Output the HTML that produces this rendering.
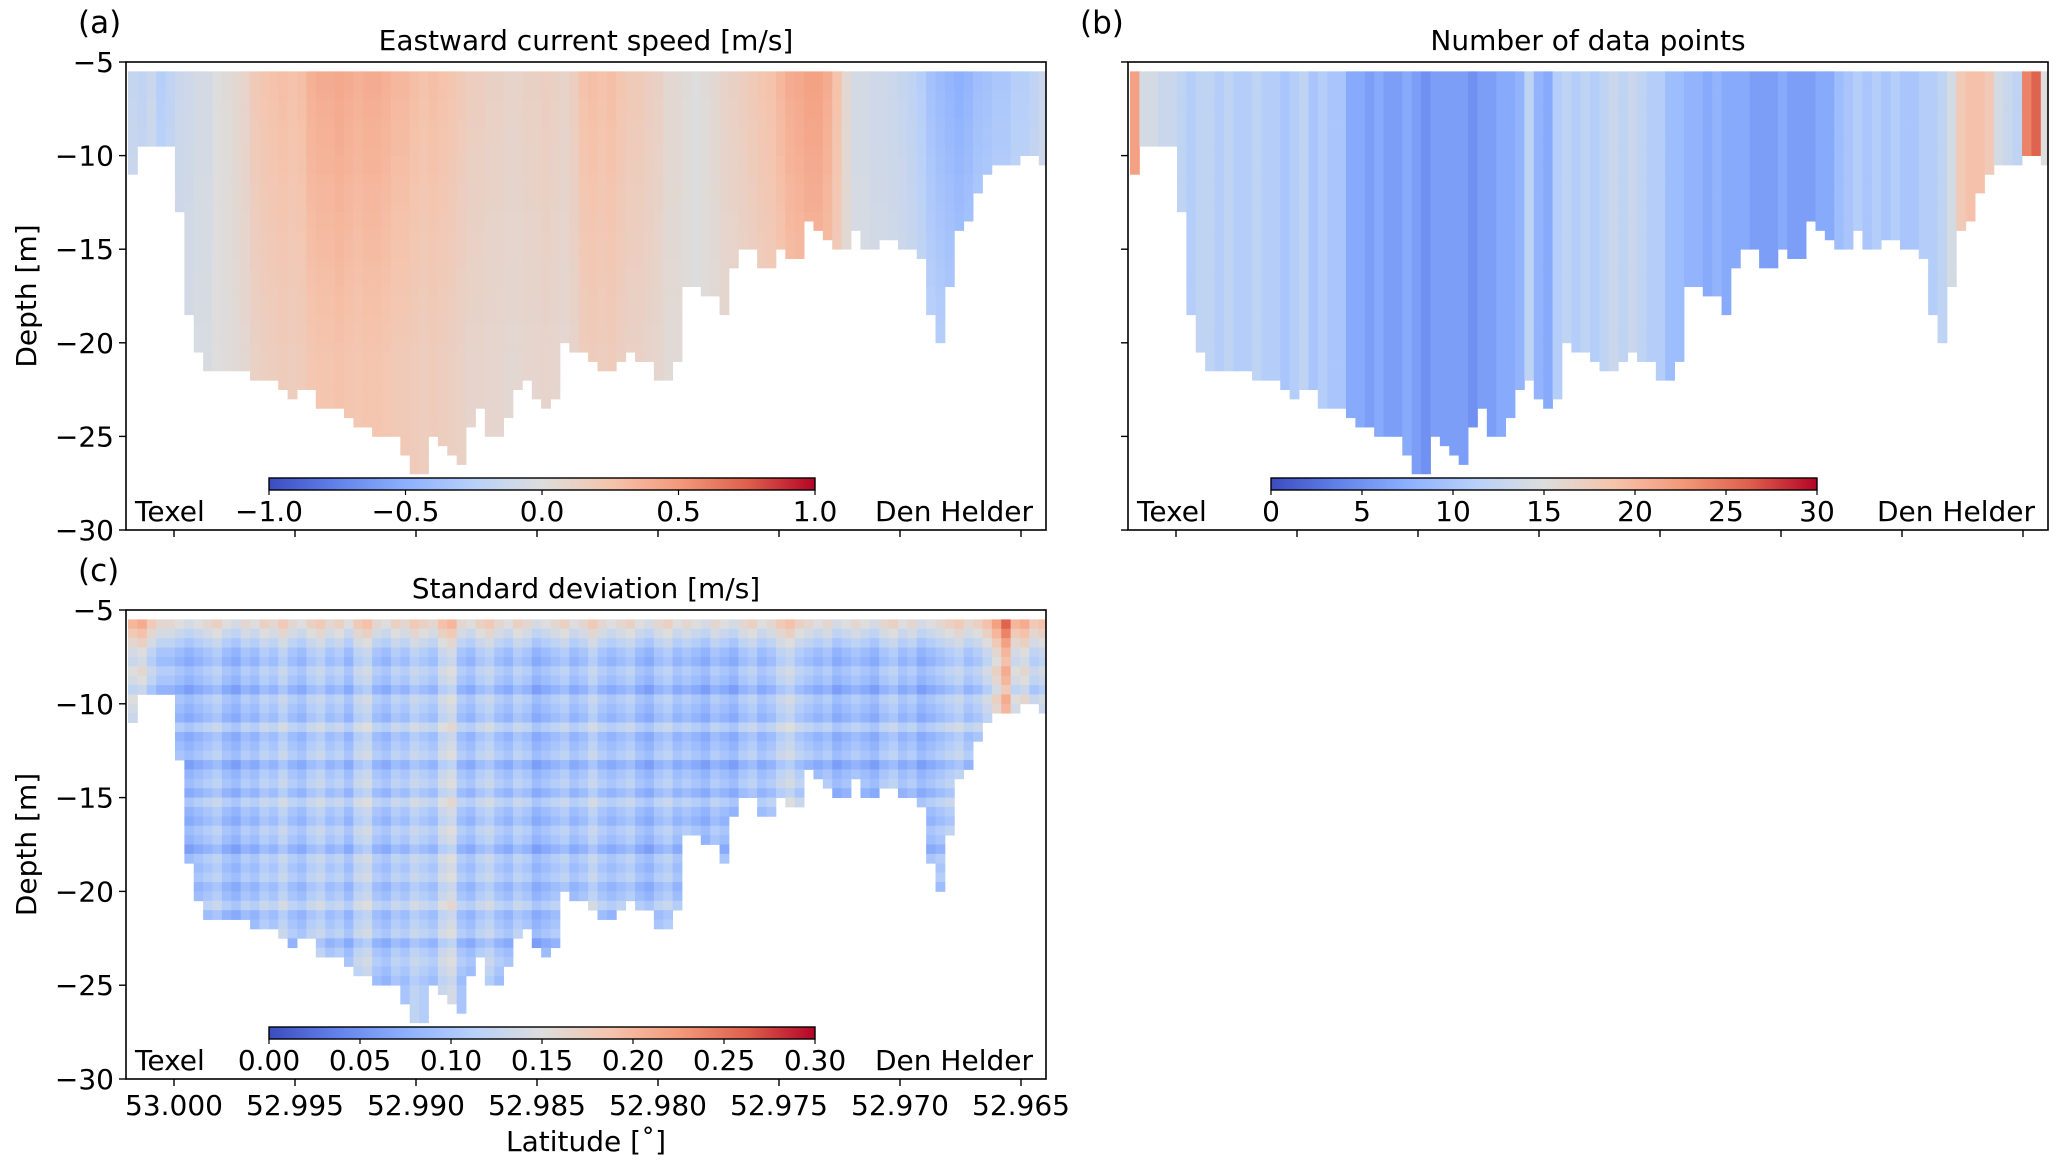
<!DOCTYPE html>
<html><head><meta charset="utf-8">
<style>
html,body{margin:0;padding:0;background:#fff;}
svg{display:block;font-family:"DejaVu Sans","Liberation Sans",sans-serif;}
</style></head>
<body>
<svg id="fig" width="2067" height="1171" viewBox="0 0 2067 1171" xmlns="http://www.w3.org/2000/svg"></svg>
<script>
// ---- data ----
const bottomDepth = [-11,-9.5,-9.5,-9.5,-9.5,-13,-18.5,-20.5,-21.5,-21.5,-21.5,-21.5,-21.5,-22,-22,-22,-22.5,-23,-22.5,-22.5,
-23.5,-23.5,-23.5,-24,-24.5,-24.5,-25,-25,-25,-26,-27,-27,-25,-25.5,-26,-26.5,-24.5,-23.5,-25,-25,
-24,-22.5,-22,-23,-23.5,-23,-20,-20.5,-20.5,-21,-21.5,-21.5,-21,-20.5,-21,-21,-22,-22,-21,-17,
-17,-17.5,-17.5,-18.5,-16,-15,-15,-16,-16,-15,-15.5,-15.5,-13.5,-14,-14.5,-15,-15,-14,-15,-15,
-14.5,-14.5,-15,-15,-15.5,-18.5,-20,-17,-14,-13.5,-12,-11,-10.5,-10.5,-10.5,-10,-10,-10.5];
const topDepth = -5.5;
const rowStep = 0.5;
const latStart = 53.0019;
const latStep = 0.000388;
const speedCols = [-0.12,-0.15,-0.1,-0.2,-0.15,-0.1,-0.08,-0.05,-0.05,
0.0,0.02,0.05,0.08,
0.15,0.18,0.2,0.22,0.2,0.22,
0.28,0.3,0.3,0.32,0.3,0.28,0.3,0.3,0.28,0.25,0.25,0.22,0.2,0.22,0.2,
0.18,0.15,0.12,0.12,0.1,0.1,0.08,0.08,0.1,0.1,0.12,0.1,0.08,0.12,
0.2,0.22,0.2,0.22,0.18,0.15,0.15,0.12,0.1,0.05,0.05,0.02,
0.0,0.02,0.05,0.08,0.1,0.12,0.15,0.18,0.2,0.25,
0.3,0.32,0.35,0.35,0.3,0.2,0.05,
-0.05,-0.05,-0.08,-0.08,-0.1,-0.12,-0.15,-0.2,
-0.28,-0.32,-0.35,-0.38,-0.35,-0.3,-0.28,-0.25,-0.25,-0.2,-0.2,-0.15,-0.1];
const speedRowFactor = [1.3,1.3,1.28,1.25,1.25,1.22,1.2,1.2,1.18,1.15,1.15,1.12,1.1,1.1,1.08,1.05,1.05,1.02,1,1,0.98,0.95,0.95,0.92,0.9,0.9,0.88,0.85,0.85,0.82,0.8,0.8,0.8,0.8,0.8,0.8,0.8,0.8,0.8,0.8,0.8,0.8,0.8];
const countCols = [22,14,14,13,13,12,
11,12,12,11,12,11,11,12,11,11,10,11,12,10,11,10,10,
7,7,6,7,6,6,7,6,5,6,6,6,6,5,6,6,7,7,8,
12,8,7,11,12,11,12,11,12,13,12,13,12,11,11,9,9,
8,8,7,8,7,7,7,6,6,6,7,6,6,6,7,7,9,
10,11,10,11,10,11,10,10,11,11,12,
14,18,19,19,18,
14,13,12,
24,26,15];
const stdCols = [0.14,0.15,0.12,0.1,0.1,0.09,0.08,0.09,0.1,0.11,
0.09,0.08,0.1,0.09,0.11,0.1,0.12,0.1,0.09,0.11,
0.12,0.1,0.11,0.09,0.12,0.13,0.1,0.09,0.11,0.1,
0.12,0.11,0.1,0.13,0.14,0.1,0.09,0.11,0.12,0.1,
0.09,0.11,0.1,0.08,0.09,0.1,0.11,0.09,0.1,0.12,
0.1,0.09,0.1,0.11,0.09,0.08,0.1,0.11,0.09,0.1,
0.09,0.08,0.1,0.09,0.08,0.1,0.11,0.09,0.1,0.12,
0.13,0.11,0.1,0.09,0.1,0.08,0.09,0.1,0.09,0.08,
0.1,0.11,0.09,0.1,0.08,0.09,0.1,0.11,0.12,0.1,
0.11,0.13,0.16,0.2,0.14,0.15,0.12,0.13];
const stdRowOffset = [0.06,0.04,0.02,0,-0.01,0.01,0,-0.02,0.01,0,-0.01,0.02,-0.01,0,0.01,-0.02,0,0.01,-0.01,0.02,0,-0.01,0.01,0,-0.02,0.01,0,0.01,-0.01,0,0.02,-0.01,0,0.01,-0.02,0,0.01,0,-0.01,0,0,0,0];
const yTicks = [-5,-10,-15,-20,-25,-30];
const yTickLabels = ["\u22125","\u221210","\u221215","\u221220","\u221225","\u221230"];
const xTicks = [53.000,52.995,52.990,52.985,52.980,52.975,52.970,52.965];
const xTickLabels = ["53.000","52.995","52.990","52.985","52.980","52.975","52.970","52.965"];
const cbA = [-1.0,-0.5,0.0,0.5,1.0];
const cbALabels = ["\u22121.0","\u22120.5","0.0","0.5","1.0"];
const cbB = [0,5,10,15,20,25,30];
const cbBLabels = ["0","5","10","15","20","25","30"];
const cbC = [0,0.05,0.10,0.15,0.20,0.25,0.30];
const cbCLabels = ["0.00","0.05","0.10","0.15","0.20","0.25","0.30"];

// ---- helpers ----
const NS = "http://www.w3.org/2000/svg";
const fig = document.getElementById('fig');
function mk(tag, attrs, parent){const e=document.createElementNS(NS,tag);for(const k in attrs)e.setAttribute(k,attrs[k]);(parent||fig).appendChild(e);return e;}
const cmapStops=[[59,76,192],[98,130,234],[141,176,254],[184,208,249],[221,221,221],[245,196,173],[244,154,123],[222,96,77],[180,4,38]];
function cmap(t){t=Math.max(0,Math.min(1,t));const p=t*8;const i=Math.min(7,Math.floor(p));const f=p-i;const a=cmapStops[i],b=cmapStops[i+1];
return `rgb(${Math.round(a[0]+(b[0]-a[0])*f)},${Math.round(a[1]+(b[1]-a[1])*f)},${Math.round(a[2]+(b[2]-a[2])*f)})`;}
const FS = 28;

function makePanel(P){
  const xs = lat => P.x0 + 48 + (53.000-lat)/0.005*121;
  const ys = d => P.y0 + (-5-d)/25*(P.y1-P.y0);
  const g = mk('g',{});
  
  
  for(let c=0;c<bottomDepth.length;c++){
    const la0=latStart-c*latStep, la1=latStart-(c+1)*latStep;
    const xa=xs(la0), xb=Math.min(xs(la1),P.x1);
    const nRows=Math.round((topDepth-bottomDepth[c])/rowStep);
    for(let r=0;r<nRows;r++){
      const d0=topDepth-r*rowStep, d1=d0-rowStep;
      const v=P.val(c,r);
      const rc=mk('rect',{x:xa.toFixed(2),y:ys(d0).toFixed(2),width:(xb-xa+0.4).toFixed(2),height:(ys(d1)-ys(d0)+0.4).toFixed(2),fill:cmap((v-P.vmin)/(P.vmax-P.vmin))},g);
      
      
    }
  }
  const fr=mk('rect',{x:P.x0,y:P.y0,width:P.x1-P.x0,height:P.y1-P.y0,fill:'none',stroke:'#000','stroke-width':1.6},g);
  
  
  yTicks.forEach((t,i)=>{
    const y=ys(t);
    const tk=mk('line',{x1:P.x0-7,x2:P.x0,y1:y,y2:y,stroke:'#000','stroke-width':1.4},g);
    
    
    if(P.ylabels){
      const tx=mk('text',{x:P.x0-12,y:y+10,'text-anchor':'end','font-size':FS},g);
      tx.textContent=yTickLabels[i];
      
      
    }
  });
  xTicks.forEach((t,i)=>{
    const x=xs(t);
    const tk=mk('line',{x1:x,x2:x,y1:P.y1,y2:P.y1+7,stroke:'#000','stroke-width':1.4},g);
    
    
    if(P.xlabels){
      const tx=mk('text',{x:x,y:P.y1+36,'text-anchor':'middle','font-size':FS},g);
      tx.textContent=xTickLabels[i];
      
      
    }
  });
  const ti=mk('text',{x:(P.x0+P.x1)/2,y:P.y0-12,'text-anchor':'middle','font-size':FS},g);
  ti.textContent=P.title;
  
  
  const pl=mk('text',{x:P.x0-48,y:P.y0-29,'font-size':31},g);
  pl.textContent=P.letter;
  
  
  const cx0=P.x0+143, cx1=P.x0+689, cy0=P.y1-52, cy1=P.y1-40;
  const cbs = v => cx0+(v-P.vmin)/(P.vmax-P.vmin)*(cx1-cx0);
  const defs=mk('defs',{},g);
  const gid='grad'+P.letter.replace(/\W/g,'');
  const gr=mk('linearGradient',{id:gid,x1:0,x2:1,y1:0,y2:0},defs);
  for(let i=0;i<=16;i++){mk('stop',{offset:(i/16),'stop-color':cmap(i/16)},gr);}
  const cb=mk('rect',{x:cx0,y:cy0,width:cx1-cx0,height:cy1-cy0,fill:'url(#'+gid+')',stroke:'#000','stroke-width':1.4},g);
  
  
  P.cbTicks.forEach((t,i)=>{
    const x=cbs(t);
    const tk=mk('line',{x1:x,x2:x,y1:cy1,y2:cy1+5,stroke:'#000','stroke-width':1.2},g);
    
    
    const tx=mk('text',{x:x,y:P.y1-9,'text-anchor':'middle','font-size':FS},g);
    tx.textContent=P.cbLabels[i];
    
    
  });
  const t1=mk('text',{x:P.x0+9,y:P.y1-9,'font-size':FS},g);
  t1.textContent='Texel';
  
  
  const t2=mk('text',{x:P.x1-13,y:P.y1-9,'text-anchor':'end','font-size':FS},g);
  t2.textContent='Den Helder';
  
  
  if(P.ylabels){
    const yl=mk('text',{x:0,y:0,'text-anchor':'middle','font-size':FS,transform:`translate(36,${(P.y0+P.y1)/2}) rotate(-90)`},g);
    yl.textContent='Depth [m]';
    
    
  }
  if(P.xlabels){
    const xl=mk('text',{x:(P.x0+P.x1)/2,y:P.y1+72,'text-anchor':'middle','font-size':FS},g);
    xl.textContent='Latitude [\u02DA]';
    
    
  }
}

makePanel({name:'panel-a-eastward-speed',letter:'(a)',title:'Eastward current speed [m/s]',x0:126,x1:1046,y0:62,y1:530,
  vmin:-1,vmax:1,val:(c,r)=>speedCols[c]*speedRowFactor[r],cbTicks:cbA,cbLabels:cbALabels,ylabels:true,xlabels:false});
makePanel({name:'panel-b-data-points',letter:'(b)',title:'Number of data points',x0:1128,x1:2048,y0:62,y1:530,
  vmin:0,vmax:30,val:(c,r)=>countCols[c],cbTicks:cbB,cbLabels:cbBLabels,ylabels:false,xlabels:false});
makePanel({name:'panel-c-std-dev',letter:'(c)',title:'Standard deviation [m/s]',x0:126,x1:1046,y0:610,y1:1079,
  vmin:0,vmax:0.3,val:(c,r)=>stdCols[c]+stdRowOffset[r],cbTicks:cbC,cbLabels:cbCLabels,ylabels:true,xlabels:true});
</script>
</body></html>
